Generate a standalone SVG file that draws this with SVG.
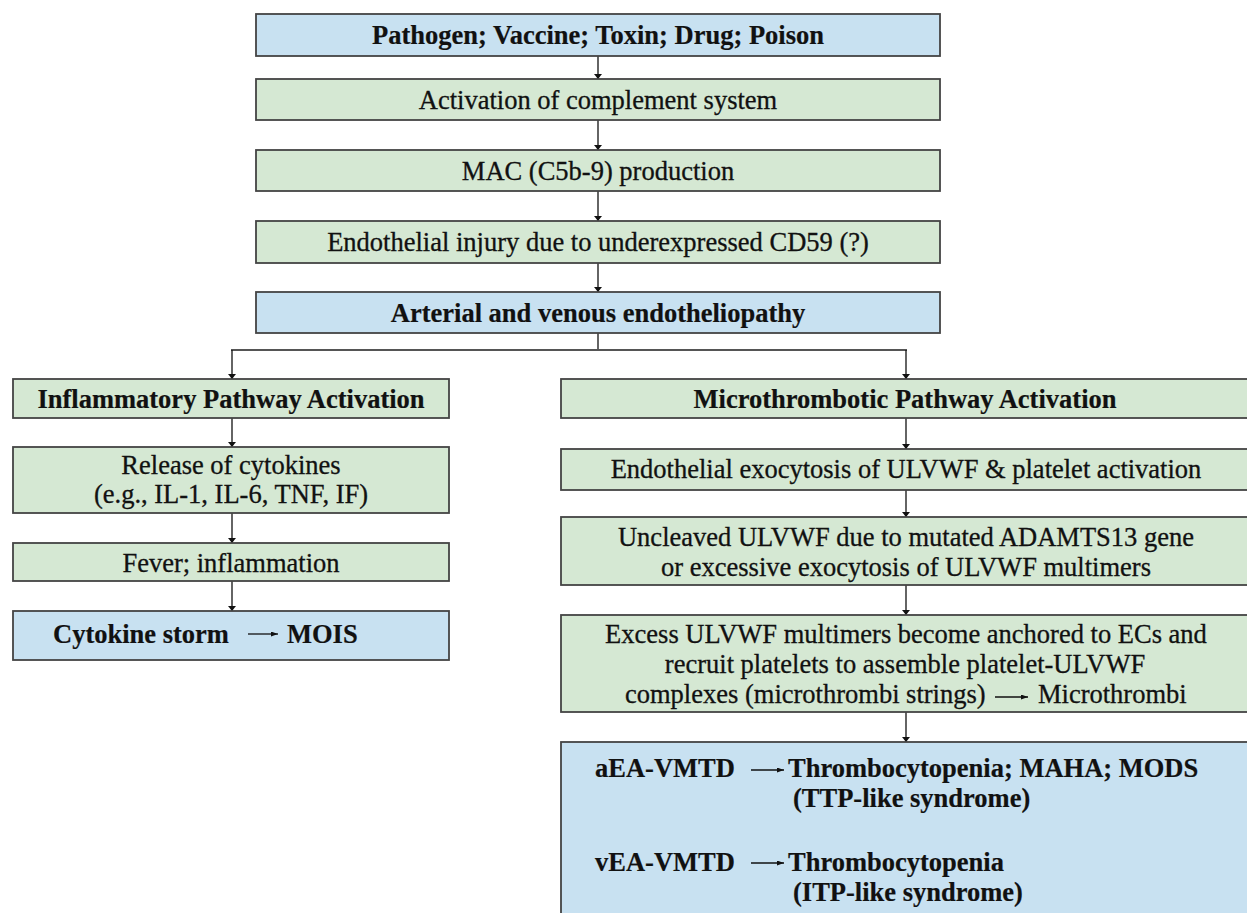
<svg xmlns="http://www.w3.org/2000/svg" width="1247" height="913" viewBox="0 0 1247 913">
<defs>
<style>
.g{fill:#d5e8d3;stroke:#444;stroke-width:1.8}
.b{fill:#c8e1f1;stroke:#444;stroke-width:1.8}
text{font-family:"Liberation Serif","Times New Roman",serif;font-size:26.5px;fill:#111;stroke:#111;stroke-width:0.3}
.c{text-anchor:middle}
.bd{font-weight:bold;stroke-width:0.2}
.ln{stroke:#111;stroke-width:1.3;fill:none}
.sp{stroke:#555;stroke-width:2;fill:none}
</style>
<marker id="ah" viewBox="0 0 10 10" refX="10" refY="5" markerWidth="5" markerHeight="8" markerUnits="userSpaceOnUse" orient="auto" preserveAspectRatio="none">
<path d="M0,0 L10,5 L0,10 Z" fill="#111"/>
</marker>
<marker id="ai" viewBox="0 0 10 10" refX="10" refY="5" markerWidth="7" markerHeight="5" markerUnits="userSpaceOnUse" orient="auto" preserveAspectRatio="none">
<path d="M0,0 L10,5 L0,10 Z" fill="#111"/>
</marker>
</defs>
<rect width="1247" height="913" fill="#fff"/>

<g id="connectors">
<line class="ln" x1="598" y1="56" x2="598" y2="79" marker-end="url(#ah)"/>
<line class="ln" x1="598" y1="120" x2="598" y2="150" marker-end="url(#ah)"/>
<line class="ln" x1="598" y1="191" x2="598" y2="221" marker-end="url(#ah)"/>
<line class="ln" x1="598" y1="263" x2="598" y2="292" marker-end="url(#ah)"/>
<line class="ln" x1="598" y1="333" x2="598" y2="350"/>
<line class="sp" x1="231" y1="350" x2="907" y2="350"/>
<line class="ln" x1="232" y1="350" x2="232" y2="379" marker-end="url(#ah)"/>
<line class="ln" x1="906" y1="350" x2="906" y2="379" marker-end="url(#ah)"/>
<line class="ln" x1="232" y1="418" x2="232" y2="447" marker-end="url(#ah)"/>
<line class="ln" x1="232" y1="513" x2="232" y2="543" marker-end="url(#ah)"/>
<line class="ln" x1="232" y1="581" x2="232" y2="611" marker-end="url(#ah)"/>
<line class="ln" x1="906" y1="418" x2="906" y2="449" marker-end="url(#ah)"/>
<line class="ln" x1="906" y1="490" x2="906" y2="517" marker-end="url(#ah)"/>
<line class="ln" x1="906" y1="585" x2="906" y2="615" marker-end="url(#ah)"/>
<line class="ln" x1="906" y1="712" x2="906" y2="742" marker-end="url(#ah)"/>
</g>

<g id="n-source">
<rect class="b" x="256" y="14" width="684" height="42"/>
<text class="c bd" x="598" y="44">Pathogen; Vaccine; Toxin; Drug; Poison</text>
</g>
<g id="n-complement">
<rect class="g" x="256" y="79" width="684" height="41"/>
<text class="c" x="598" y="109">Activation of complement system</text>
</g>
<g id="n-mac">
<rect class="g" x="256" y="150" width="684" height="41"/>
<text class="c" x="598" y="180">MAC (C5b-9) production</text>
</g>
<g id="n-injury">
<rect class="g" x="256" y="221" width="684" height="42"/>
<text class="c" x="598" y="251">Endothelial injury due to underexpressed CD59 (?)</text>
</g>
<g id="n-endotheliopathy">
<rect class="b" x="256" y="292" width="684" height="41"/>
<text class="c bd" x="598" y="322">Arterial and venous endotheliopathy</text>
</g>

<g id="n-inflam">
<rect class="g" x="13" y="379" width="436" height="39"/>
<text class="c bd" x="231" y="408">Inflammatory Pathway Activation</text>
</g>
<g id="n-cytokines">
<rect class="g" x="13" y="447" width="436" height="66"/>
<text class="c" x="231" y="474">Release of cytokines</text>
<text class="c" x="231" y="503">(e.g., IL-1, IL-6, TNF, IF)</text>
</g>
<g id="n-fever">
<rect class="g" x="13" y="543" width="436" height="38"/>
<text class="c" x="231" y="572">Fever; inflammation</text>
</g>
<g id="n-storm">
<rect class="b" x="13" y="611" width="436" height="49"/>
<text class="bd" x="53" y="643">Cytokine storm</text>
<line class="ln" x1="248" y1="634" x2="278" y2="634" marker-end="url(#ai)"/>
<text class="bd" x="287" y="643">MOIS</text>
</g>

<g id="n-micro">
<rect class="g" x="561" y="379" width="690" height="39"/>
<text class="c bd" x="905" y="408">Microthrombotic Pathway Activation</text>
</g>
<g id="n-exocytosis">
<rect class="g" x="561" y="449" width="690" height="41"/>
<text class="c" x="906" y="478">Endothelial exocytosis of ULVWF &amp; platelet activation</text>
</g>
<g id="n-uncleaved">
<rect class="g" x="561" y="517" width="690" height="68"/>
<text class="c" x="906" y="546">Uncleaved ULVWF due to mutated ADAMTS13 gene</text>
<text class="c" x="906" y="576">or excessive exocytosis of ULVWF multimers</text>
</g>
<g id="n-anchored">
<rect class="g" x="561" y="615" width="690" height="97"/>
<text class="c" x="906" y="643">Excess ULVWF multimers become anchored to ECs and</text>
<text class="c" x="905" y="673">recruit platelets to assemble platelet-ULVWF</text>
<text x="625" y="703">complexes (microthrombi strings)</text>
<line class="ln" x1="995" y1="697" x2="1028" y2="697" marker-end="url(#ai)"/>
<text x="1038" y="703">Microthrombi</text>
</g>
<g id="n-outcome">
<rect class="b" x="561" y="742" width="690" height="180"/>
<text class="bd" x="595" y="777">aEA-VMTD</text>
<line class="ln" x1="751" y1="770" x2="784" y2="770" marker-end="url(#ai)"/>
<text class="bd" x="788" y="777">Thrombocytopenia; MAHA; MODS</text>
<text class="bd" x="793" y="807">(TTP-like syndrome)</text>
<text class="bd" x="595" y="871">vEA-VMTD</text>
<line class="ln" x1="751" y1="863" x2="784" y2="863" marker-end="url(#ai)"/>
<text class="bd" x="788" y="871">Thrombocytopenia</text>
<text class="bd" x="793" y="901">(ITP-like syndrome)</text>
</g>
</svg>
